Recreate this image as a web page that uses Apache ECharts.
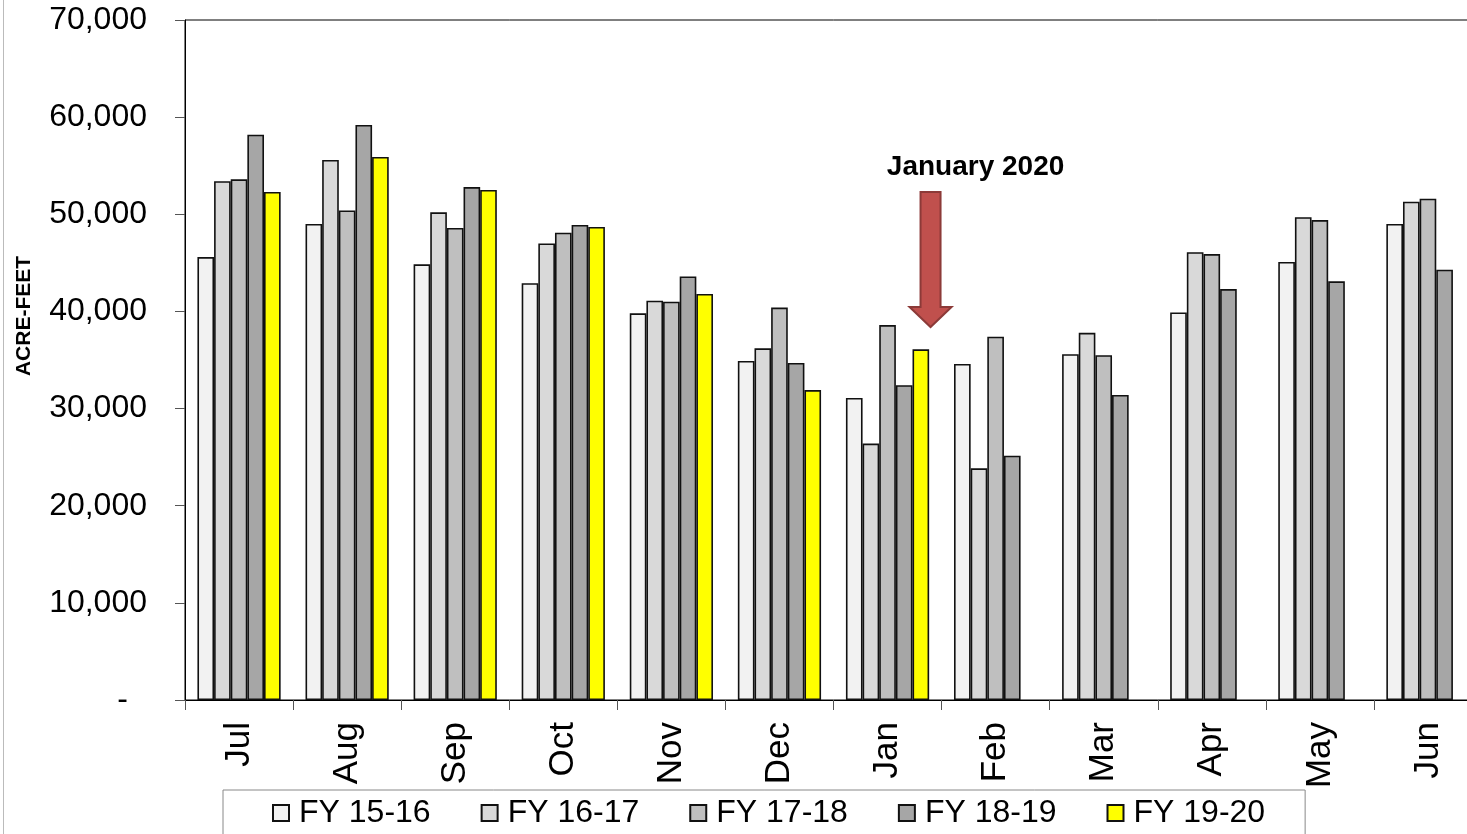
<!DOCTYPE html>
<html>
<head>
<meta charset="utf-8">
<title>Acre-feet by month</title>
<script src="https://cdn.jsdelivr.net/npm/echarts@6/dist/echarts.min.js"></script>
<style>
  html, body { margin: 0; padding: 0; background: #fff; overflow: hidden; }
  /* 图表右侧在截图外被裁掉，容器比窗口宽一些 */
  #main { width: 1482px; height: 834px; }
</style>
</head>
<body>
<div id="main"></div>
<script>
// 月份
const months = ["Jul", "Aug", "Sep", "Oct", "Nov", "Dec", "Jan", "Feb", "Mar", "Apr", "May", "Jun"]
const seriesNames = ["FY 15-16", "FY 16-17", "FY 17-18", "FY 18-19", "FY 19-20"]
const seriesColors = ["#f2f2f2", "#d9d9d9", "#bfbfbf", "#a6a6a6", "#ffff00"]

// acre-feet
const fy1516 = [45600, 49000, 44850, 42900, 39800, 34900, 31100, 34600, 35600, 39900, 45100, 49000]
const fy1617 = [53400, 55600, 50200, 47000, 41100, 36200, 26400, 23850, 37800, 46100, 49700, 51300]
const fy1718 = [53600, 50400, 48600, 48100, 41000, 40400, 38600, 37400, 35500, 45900, 49400, 51600]
const fy1819 = [58200, 59200, 52800, 48900, 43600, 34700, 32400, 25150, 31400, 42300, 43100, 44300]
const fy1920 = [52300, 55900, 52500, 48700, 41800, 31900, 36100, null, null, null, null, null]
const allSeries = [fy1516, fy1617, fy1718, fy1819, fy1920]

// y轴刻度
const yMin = 0
const yMax = 70000
const yStep = 10000

const myChart = echarts.init(document.getElementById("main"))

const series = allSeries.map(function (arr, i) {
  return {
    name: seriesNames[i],
    type: "bar",
    barGap: "0%",
    barCategoryGap: "23%",
    itemStyle: {
      color: seriesColors[i],
      borderColor: "#111",
      borderWidth: 1.6
    },
    emphasis: { disabled: true },
    data: arr
  }
})

const option = {
  animation: false,
  backgroundColor: "#fff",
  textStyle: {
    fontFamily: "Liberation Sans, Arial, sans-serif",
    color: "#000"
  },
  grid: {
    left: 185,
    top: 20,
    right: 0,
    height: 680,
    show: true,
    borderColor: "#000",
    borderWidth: 1,
    backgroundColor: "#fff"
  },
  legend: {
    left: 223,
    top: 790,
    orient: "horizontal",
    icon: "rect",
    itemWidth: 16,
    itemHeight: 16,
    itemGap: 50,
    padding: [7, 40, 30, 49],
    borderColor: "#888",
    borderWidth: 1,
    textStyle: {
      fontSize: 32,
      color: "#000",
      padding: [0, 0, 0, 5]
    },
    data: seriesNames
  },
  xAxis: {
    type: "category",
    data: months,
    axisLine: { show: true, lineStyle: { color: "#000", width: 1 } },
    axisTick: { show: true, length: 10, lineStyle: { color: "#555" } },
    axisLabel: {
      rotate: 90,
      fontSize: 35,
      color: "#000",
      margin: 22
    }
  },
  yAxis: {
    type: "value",
    min: yMin,
    max: yMax,
    interval: yStep,
    splitLine: { show: false },
    axisLine: { show: true, lineStyle: { color: "#000", width: 1 } },
    axisTick: { show: true, length: 10, lineStyle: { color: "#555" } },
    axisLabel: {
      fontSize: 32,
      color: "#000",
      margin: 38,
      formatter: function (v) {
        if (v === 0) return "{z|-}"
        return v.toLocaleString("en-US")
      },
      rich: {
        z: { fontSize: 32, color: "#000", padding: [0, 19, 0, 0] }
      }
    }
  },
  series: series
}
myChart.setOption(option)

// 注释：January 2020 箭头，锚定到 Jan 分类
const janX = myChart.convertToPixel({ xAxisIndex: 0 }, "Jan")
const ax = janX + 43
const shaftTop = 192
const headTop = 307
const tip = 327
myChart.setOption({
  graphic: [
    {
      type: "line",
      shape: { x1: 3.5, y1: 0, x2: 3.5, y2: 834 },
      style: { stroke: "#bbb", lineWidth: 1 }
    },
    {
      type: "text",
      x: ax + 45,
      y: 167,
      style: {
        text: "January 2020",
        font: "bold 28px Liberation Sans, Arial, sans-serif",
        fill: "#000",
        align: "center",
        verticalAlign: "middle"
      }
    },
    {
      type: "polygon",
      shape: {
        points: [
          [ax - 10, shaftTop], [ax + 10, shaftTop], [ax + 10, headTop],
          [ax + 21, headTop], [ax, tip], [ax - 21, headTop],
          [ax - 10, headTop]
        ]
      },
      style: { fill: "#c0504d", stroke: "#8c3a38", lineWidth: 2 }
    },
    {
      type: "text",
      x: 24,
      y: 316,
      rotation: Math.PI / 2,
      style: {
        text: "ACRE-FEET",
        font: "bold 21px Liberation Sans, Arial, sans-serif",
        fill: "#000",
        align: "center",
        verticalAlign: "middle"
      }
    }
  ]
})

window.addEventListener("resize", function () {
  myChart.resize()
})
</script>
</body>
</html>
